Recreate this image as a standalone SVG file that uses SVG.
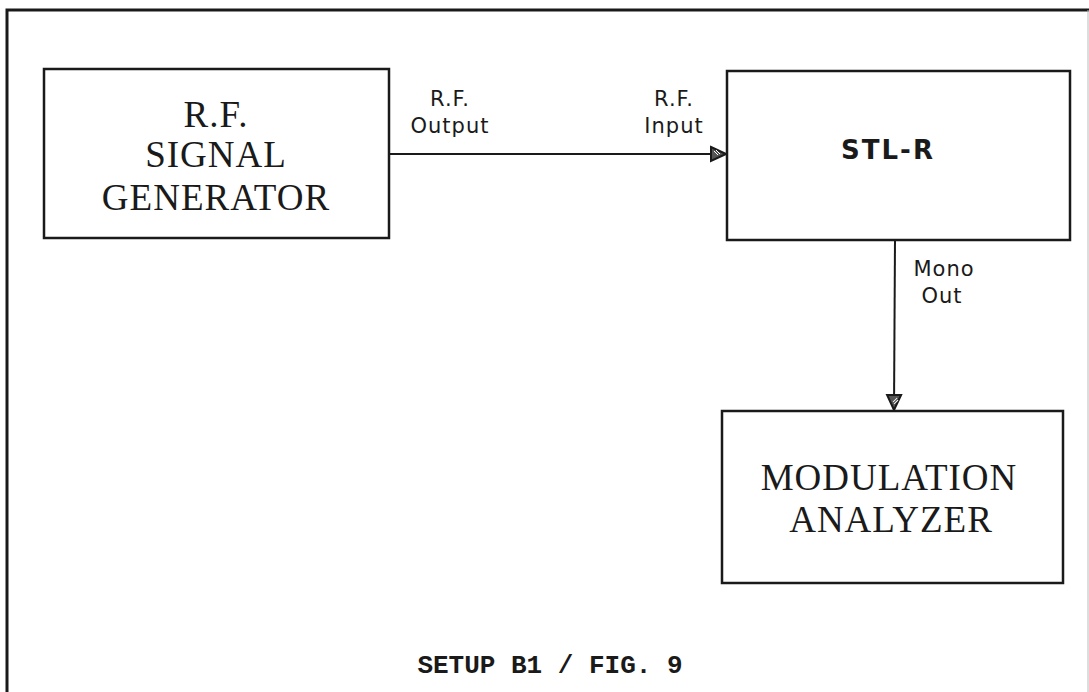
<svg xmlns="http://www.w3.org/2000/svg" width="1089" height="692" viewBox="0 0 1089 692">
<style>
.box{fill:none;stroke:#1a1a1a;stroke-width:2.5}
.serif{font-family:"Liberation Serif","DejaVu Serif",serif;font-size:37px;fill:#1a1a1a;text-anchor:middle;letter-spacing:1px}
.lbl{font-family:"DejaVu Sans","Liberation Sans",sans-serif;font-size:21px;fill:#1a1a1a;text-anchor:middle;letter-spacing:1px}
.conn{stroke:#1a1a1a;stroke-width:2;fill:none}
</style>
<defs>
<marker id="arr2" markerWidth="18" markerHeight="18" refX="16" refY="9" orient="auto" markerUnits="userSpaceOnUse" viewBox="0 0 18 18">
<path d="M1,2 L16,9 L1,16 Z" fill="#555" stroke="#1a1a1a" stroke-width="2"/>
<path d="M4,6 L8,10 M6,5 L10,9" stroke="#fff" stroke-width="1"/>
</marker>
</defs>
<rect width="1089" height="692" fill="#fff"/>
<g id="frame">
<path d="M7,692 L7,10 L1089,10" fill="none" stroke="#1a1a1a" stroke-width="3"/>
<line x1="1088" y1="10" x2="1088" y2="692" stroke="#bbb" stroke-width="1"/>
</g>
<g id="connectors">
<line class="conn" x1="389" y1="154" x2="726" y2="154" marker-end="url(#arr2)"/>
<line class="conn" x1="895" y1="240" x2="894" y2="410" marker-end="url(#arr2)"/>
<text class="lbl" x="450" y="106">R.F.</text>
<text class="lbl" x="450" y="133">Output</text>
<text class="lbl" x="674" y="106">R.F.</text>
<text class="lbl" x="674" y="133">Input</text>
<text class="lbl" x="944" y="276">Mono</text>
<text class="lbl" x="942" y="303">Out</text>
</g>
<g id="rf-signal-generator">
<rect class="box" x="44" y="69" width="345" height="169"/>
<text class="serif" x="216" y="127">R.F.</text>
<text class="serif" x="216" y="167">SIGNAL</text>
<text class="serif" x="216" y="210">GENERATOR</text>
</g>
<g id="stl-r">
<rect class="box" x="727" y="71" width="343" height="169"/>
<text x="888" y="159" font-family="'DejaVu Sans','Liberation Sans',sans-serif" font-size="26" font-weight="bold" fill="#1a1a1a" text-anchor="middle" letter-spacing="2">STL-R</text>
</g>
<g id="modulation-analyzer">
<rect class="box" x="722" y="411" width="341" height="172"/>
<text class="serif" x="889" y="490">MODULATION</text>
<text class="serif" x="891" y="532">ANALYZER</text>
</g>
<g id="caption">
<text x="550" y="673" font-family="'Liberation Mono','DejaVu Sans Mono',monospace" font-size="26" font-weight="bold" fill="#1a1a1a" text-anchor="middle">SETUP B1 / FIG. 9</text>
</g>
</svg>
